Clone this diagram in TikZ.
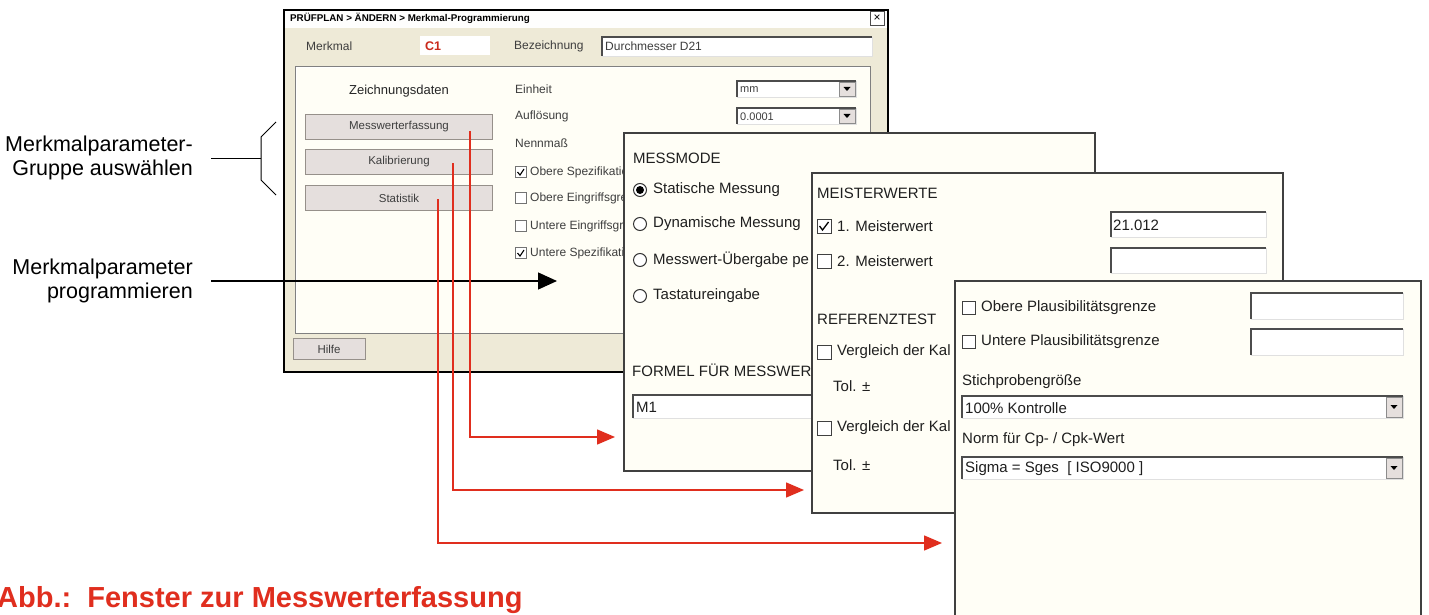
\documentclass[tikz,border=0pt]{standalone}
\usepackage{fontspec}
\setmainfont{Liberation Sans}
\usetikzlibrary{arrows.meta,positioning}
\definecolor{winbg}{RGB}{238,234,215}
\definecolor{panbg}{RGB}{255,254,246}
\definecolor{btnbg}{RGB}{229,223,221}
\definecolor{btnln}{RGB}{150,144,138}
\definecolor{pfeilrot}{RGB}{224,46,30}
\definecolor{txtgrau}{RGB}{62,62,62}
% eingabefeld: x1,y1 (oben links), x2,y2 (unten rechts)
\newcommand{\eingabefeld}[4]{%
  \fill[white] (#1,#2) rectangle (#3,#4);
  \draw[black!12] (#1,#4) -- (#3,#4) -- (#3,#2);
  \draw[black!70,line width=1.4] (#1,#4) -- (#1,#2) -- (#3,#2);}
\newcommand{\auswahlfeld}[4]{%
  \eingabefeld{#1}{#2}{#3}{#4}
  \draw[black!45,fill=btnbg] (#3-17,#2+1.5) rectangle (#3-1,#4-1);
  \fill[black] (#3-12.5,#2/2+#4/2-2) -- (#3-5.5,#2/2+#4/2-2) -- (#3-9,#2/2+#4/2+2) -- cycle;}
\begin{document}
\begin{tikzpicture}[x=1pt,y=-1pt,
  wtxt/.style={anchor=west,inner sep=0,text=txtgrau,font=\fontsize{12}{13}\selectfont},
  ptxt/.style={anchor=west,inner sep=0,text=black!88,font=\fontsize{15}{18}\selectfont},
  ltxt/.style={anchor=east,inner sep=0,align=right,font=\fontsize{21.5}{23.5}\selectfont},
  knopf/.style={draw=btnln,fill=btnbg,minimum width=187,minimum height=25,inner sep=0,
    text=txtgrau,font=\fontsize{11.5}{13}\selectfont},
  panel/.style={draw=black!75,fill=panbg,line width=1.2},
  kbox/.style={draw=black!75,line width=1,fill=white},
  rotpfeil/.style={draw=pfeilrot,line width=1.4,-{Triangle[length=18,width=15]}}]
\useasboundingbox[fill=white] (0,0) rectangle (1429,615);

% Hauptfenster
\draw[fill=winbg,line width=1.5] (284,10) rectangle (888,372);
\fill[white!94!winbg] (285,11) rectangle (887,28);
\node[anchor=west,inner sep=0,font=\bfseries\fontsize{9.8}{11}\selectfont] (titel) at (290,18)
  {PRÜFPLAN > ÄNDERN > Merkmal-Programmierung};
\node[draw=black!70,fill=white,minimum size=14,inner sep=0,font=\fontsize{12}{12}\selectfont] (zu) at (877,18) {×};
\node[wtxt] (merkmal) at (306,46) {Merkmal};
\node[fill=white,minimum width=70,minimum height=19,inner sep=0] (c1box) at (455,46) {};
\node[anchor=west,inner sep=0,text=pfeilrot!90!black,font=\bfseries\fontsize{12.5}{13}\selectfont] (c1) at (425,46) {C1};
\node[wtxt] (bez) at (514,46) {Bezeichnung};
\eingabefeld{602}{37}{872}{56}
\node[wtxt] (bezwert) at (605,46) {Durchmesser D21};

% inneres Feld
\draw[black!50,fill=panbg] (295,66) rectangle (870,333);
\draw[white] (296.5,332) -- (296.5,67.5) -- (869,67.5);
\node[anchor=center,inner sep=0,text=black!85,font=\fontsize{13}{14}\selectfont] (zdaten) at (399,91) {Zeichnungsdaten};
\node[knopf] (bMess) at (399,127) {Messwerterfassung};
\node[knopf] (bKal) at (399,162) {Kalibrierung};
\node[knopf] (bStat) at (399,198) {Statistik};
\node[wtxt] (einheit) at (515,89) {Einheit};
\node[wtxt] (aufl) at (515,116) {Auflösung};
\node[wtxt] (nenn) at (515,143) {Nennmaß};
\auswahlfeld{737}{81}{856}{97}
\node[wtxt,font=\fontsize{11}{12}\selectfont] (einh) at (740,90) {mm};
\auswahlfeld{737}{108}{856}{124}
\node[wtxt,font=\fontsize{11}{12}\selectfont] (auflw) at (740,117) {0.0001};
\foreach \y/\t/\c in {172/Obere Spezifikatio/1,198/Obere Eingriffsgre/0,226/Untere Eingriffsgr/0,253/Untere Spezifikati/1}
{
  \draw[black!55,fill=white] (515,\y-5.5) rectangle ++(11,11);
  \ifnum\c=1 \draw[black,line width=1.1] (517.5,\y) -- (520,\y+3) -- (524,\y-3); \fi
  \node[wtxt] (spez\y) at (530,\y) {\t};
}
\node[knopf,minimum width=72,minimum height=21] (hilfe) at (329,349) {Hilfe};

% Pfeile links
\node[ltxt] (gruppe) at (193,158) {Merkmalparameter-\\Gruppe auswählen};
\node[ltxt] (prog) at (193,281) {Merkmalparameter\\programmieren};
\coordinate (klammer) at (261,158);
\coordinate (progZiel) at (557,281);
\draw[line width=1] ([xshift=18]gruppe.east) -- (klammer);
\draw[line width=1] (276,122) -- (261,137) -- (261,180) -- (276,195);
\draw[line width=1.3,-{Triangle[length=19,width=17]}] ([xshift=18]prog.east) -- (progZiel);

\coordinate (zielMess) at (615,437);
\coordinate (zielKal) at (804,490);
\coordinate (zielStat) at (942,543);
\draw[rotpfeil] ([xshift=71,yshift=-4]bMess.center) |- (zielMess);
\draw[rotpfeil] ([xshift=54,yshift=-1]bKal.center) |- (zielKal);
\draw[rotpfeil] ([xshift=39,yshift=-1]bStat.center) |- (zielStat);

% Messmode
\draw[panel] (624,133) rectangle (1095,471);
\node[ptxt] (messmode) at (633,158) {MESSMODE};
\foreach \y/\t in {190/Statische Messung,224/Dynamische Messung,260/Messwert-Übergabe pe,296/Tastatureingabe}
{
  \draw[black!80,line width=1,fill=white] (640,\y) circle (6.5);
  \node[ptxt] (modus\y) at (653,\y) {\t};
}
\fill[black] (640,190) circle (4);
\node[ptxt] (formel) at (632,370) {FORMEL FÜR MESSWER};
\eingabefeld{633}{395}{900}{418}
\node[ptxt] (formelwert) at (636,407) {M1};

% Meisterwerte
\draw[panel] (812,173) rectangle (1283,513);
\node[ptxt] (meister) at (817,193) {MEISTERWERTE};
\foreach \y/\t/\c in {226/1. Meisterwert/1,261/2. Meisterwert/0,352/Vergleich der Kal/0,428/Vergleich der Kal/0}
{
  \draw[kbox] (817,\y-7) rectangle ++(14,14);
  \ifnum\c=1 \draw[black,line width=1.3] (819.5,\y) -- (822.5,\y+4) -- (828.5,\y-4); \fi
  \node[ptxt] (mw\y) at (837,\y) {\t};
}
\eingabefeld{1111}{212}{1266}{237}
\node[ptxt] (mwert) at (1113,225) {21.012};
\eingabefeld{1111}{248}{1266}{273}
\node[ptxt] (referenz) at (817,319) {REFERENZTEST};
\node[ptxt] (tolA) at (833,386) {Tol. ±};
\node[ptxt] (tolB) at (833,465) {Tol. ±};

% Statistik
\draw[panel] (955,281) rectangle (1421,618);
\foreach \y/\t in {308/Obere Plausibilitätsgrenze,342/Untere Plausibilitätsgrenze}
{
  \draw[kbox] (962,\y-6.5) rectangle ++(13,13);
  \node[ptxt] (plaus\y) at (981,\y) {\t};
}
\eingabefeld{1251}{293}{1403}{319}
\eingabefeld{1251}{329}{1403}{355}
\node[ptxt] (stich) at (962,382) {Stichprobengröße};
\auswahlfeld{962}{396}{1403}{418}
\node[ptxt] (stichwert) at (965,408) {100\% Kontrolle};
\node[ptxt] (norm) at (962,440) {Norm für Cp- / Cpk-Wert};
\auswahlfeld{962}{457}{1403}{479}
\node[ptxt] (normwert) at (965,469) {Sigma = Sges\ \ [ ISO9000 ]};

\node[anchor=base west,inner sep=0,text=pfeilrot,font=\bfseries\fontsize{29}{30}\selectfont] (abb) at (-3,607)
  {Abb.:\ \ Fenster zur Messwerterfassung};
\end{tikzpicture}
\end{document}
